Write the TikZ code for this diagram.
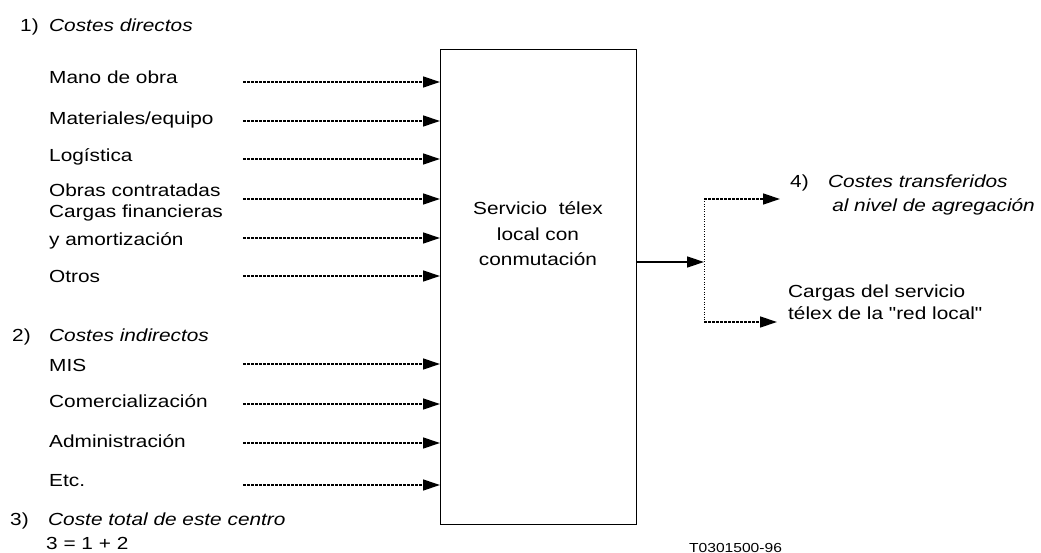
\documentclass[tikz,border=0pt]{standalone}
\usepackage{fontspec}
\setmainfont{Liberation Sans}[Ligatures=TeXOff]
\usetikzlibrary{arrows.meta}
% text is set a little wider than its natural shape
\newcommand{\wide}[1]{\scalebox{1.19}[1]{#1}}

\begin{document}
\begin{tikzpicture}[x=1pt,y=-1pt,
  lbl/.style={anchor=base west, inner sep=0pt, font=\fontsize{17.5}{21}\selectfont},
  head/.style={lbl, font=\fontsize{17.5}{21}\selectfont\itshape},
  tip/.style={-{Triangle[length=17pt,width=11pt]}},
  feed/.style={tip, line width=1.3pt, dash pattern=on 2.6pt off 1.4pt},
  outflow/.style={tip, line width=1.4pt},
  branch/.style={tip, line width=1.3pt, dash pattern=on 2.6pt off 1.4pt},
  riser/.style={line width=0.8pt, dash pattern=on 1pt off 1.5pt},
  centre/.style={draw, line width=1.3pt, minimum width=196pt, minimum height=475pt,
               inner sep=0pt, anchor=north west}
]
\useasboundingbox (0,0) rectangle (1041,553);

% cost centre
\node[centre] (box) at (440,49) {};
\node[anchor=base, inner sep=0pt, font=\fontsize{17.5}{25.5}\selectfont] (boxtext) at (538,215)
  {\wide{\begin{tabular}[t]{@{}c@{}}Servicio\ \ télex\\ local con\\ conmutación\end{tabular}}};

% direct costs
\node[lbl] (n1) at (20,31.5) {\wide{1)}};
\node[head] (h1) at (49,31.5) {\wide{Costes directos}};
\node[lbl] (l1) at (49,84) {\wide{Mano de obra}};
\node[lbl] (l2) at (49,125) {\wide{Materiales/equipo}};
\node[lbl] (l3) at (49,161.5) {\wide{Logística}};
\node[lbl] (l4) at (49,196.5) {\wide{Obras contratadas}};
\node[lbl, font=\fontsize{17.5}{27.6}\selectfont] (l5) at (49,217.7)
  {\wide{\begin{tabular}[t]{@{}l@{}}Cargas financieras\\ y amortización\end{tabular}}};
\node[lbl] (l6) at (49,283) {\wide{Otros}};

% indirect costs
\node[lbl] (n2) at (12,341.5) {\wide{2)}};
\node[head] (h2) at (49,341.5) {\wide{Costes indirectos}};
\node[lbl] (l7) at (49,371.5) {\wide{MIS}};
\node[lbl] (l8) at (49,407.5) {\wide{Comercialización}};
\node[lbl] (l9) at (49,447.5) {\wide{Administración}};
\node[lbl] (l10) at (49,486) {\wide{Etc.}};

% total
\node[lbl] (n3) at (10,525) {\wide{3)}};
\node[head] (h3) at (48,525) {\wide{Coste total de este centro}};
\node[lbl] (sum) at (46,549.3) {\wide{3 = 1 + 2}};

% inputs into the centre
\foreach \y [count=\i] in {82,121,159,199,238,276,364,404,443,485}
  \coordinate (s\i) at (243,\y);
\foreach \i in {1,...,10}
  \draw[feed] (s\i) -- (s\i -| box.west);

% outputs
\coordinate (split) at (704,262);
\coordinate (up) at (704,199);
\coordinate (down) at (704,322);
\coordinate (upEnd) at (780,199);
\coordinate (downEnd) at (777,322);
\draw[outflow] (box.east |- split) -- (split);
\draw[riser] (up) -- (down);
\draw[branch] (up) -- (upEnd);
\draw[branch] (down) -- (downEnd);

\node[lbl] (n4) at (790,188) {\wide{4)}};
\node[head, font=\fontsize{17.5}{24}\selectfont\itshape] (h4) at (828,188)
  {\wide{\begin{tabular}[t]{@{}l@{}}Costes transferidos\\ \hspace{3.4pt}al nivel de agregación\end{tabular}}};
\node[lbl, font=\fontsize{17.5}{22}\selectfont] (loc) at (788,298)
  {\wide{\begin{tabular}[t]{@{}l@{}}Cargas del servicio\\ télex de la "red local"\end{tabular}}};

% reference code
\node[lbl, font=\fontsize{13.1}{16}\selectfont] (code) at (689,552) {\wide{T0301500-96}};
\end{tikzpicture}
\end{document}
